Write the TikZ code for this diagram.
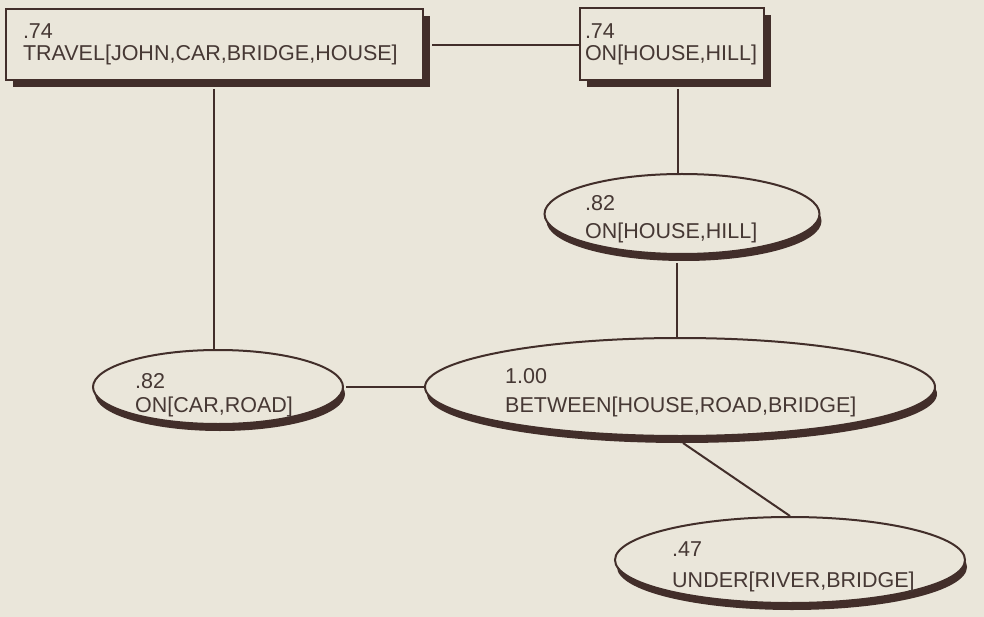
\documentclass[tikz,border=0pt]{standalone}
\usepackage{fontspec}
\setmainfont{Liberation Sans}
\usetikzlibrary{shapes.geometric,shadows}
\definecolor{paper}{RGB}{234,230,218}
\definecolor{ink}{RGB}{66,46,42}
\definecolor{txt}{RGB}{70,56,52}
\begin{document}
\begin{tikzpicture}[x=1pt,y=-1pt,
  every node/.style={font=\fontsize{21.5}{22}\selectfont, text=txt},
  factbox/.style={draw=ink, line width=2pt, fill=paper, rectangle, align=left,
    anchor=north west, inner ysep=0pt,
    general shadow={fill=ink, shadow xshift=7pt, shadow yshift=-7pt}},
  factoval/.style={draw=ink, line width=2pt, fill=paper, ellipse, inner sep=0pt,
    general shadow={fill=ink, shadow xshift=2pt, shadow yshift=-7pt}},
  factlabel/.style={align=left, anchor=north west, inner sep=0pt},
  link/.style={draw=ink, line width=2pt}]
\fill[paper] (0,0) rectangle (984,617);
\useasboundingbox (0,0) rectangle (984,617);

% rectangular facts
\node[factbox, minimum width=417pt, minimum height=71pt, text width=383pt, inner xsep=17pt]
  (travel) at (5,8) {.74\\TRAVEL[JOHN,CAR,BRIDGE,HOUSE]};
\node[factbox, minimum width=184pt, minimum height=72pt, text width=174pt, inner xsep=5pt]
  (onhill) at (579,7) {.74\\ON[HOUSE,HILL]};

% oval facts
\node[factoval, minimum width=250pt, minimum height=74pt] (oncar) at (218,387) {};
\node[factoval, minimum width=275pt, minimum height=80pt] (onhill2) at (682,214) {};
\node[factoval, minimum width=510pt, minimum height=98pt] (between) at (680,387) {};
\node[factoval, minimum width=350pt, minimum height=86pt] (under) at (790,560) {};

\node[factlabel] (oncar-t) at (135,373) {.82\\[2pt]ON[CAR,ROAD]};
\node[factlabel] (onhill2-t) at (585,195) {.82\\[6pt]ON[HOUSE,HILL]};
\node[factlabel] (between-t) at (505,368) {1.00\\[7pt]BETWEEN[HOUSE,ROAD,BRIDGE]};
\node[factlabel] (under-t) at (672,542) {.47\\[9pt]UNDER[RIVER,BRIDGE]};

% connectors
\draw[link] (travel.east |- 0,45) ++(8,0) coordinate (tr-e) -- (tr-e -| onhill.west);
\draw[link] (travel.south -| 214,0) ++(0,8) coordinate (tr-s) -- (tr-s |- oncar.north);
\draw[link] (onhill.south -| 678,0) ++(0,8) coordinate (oh-s) -- (oh-s |- onhill2.north);
\draw[link] (onhill2.south -| 677,0) ++(0,8) coordinate (oh2-s) -- (oh2-s |- between.north);
\draw[link] (oncar.east) ++(2,0) coordinate (oc-e) -- (between.west);
\draw[link] (between.south) ++(3,6) coordinate (bt-s) -- (under.north);
\end{tikzpicture}
\end{document}
